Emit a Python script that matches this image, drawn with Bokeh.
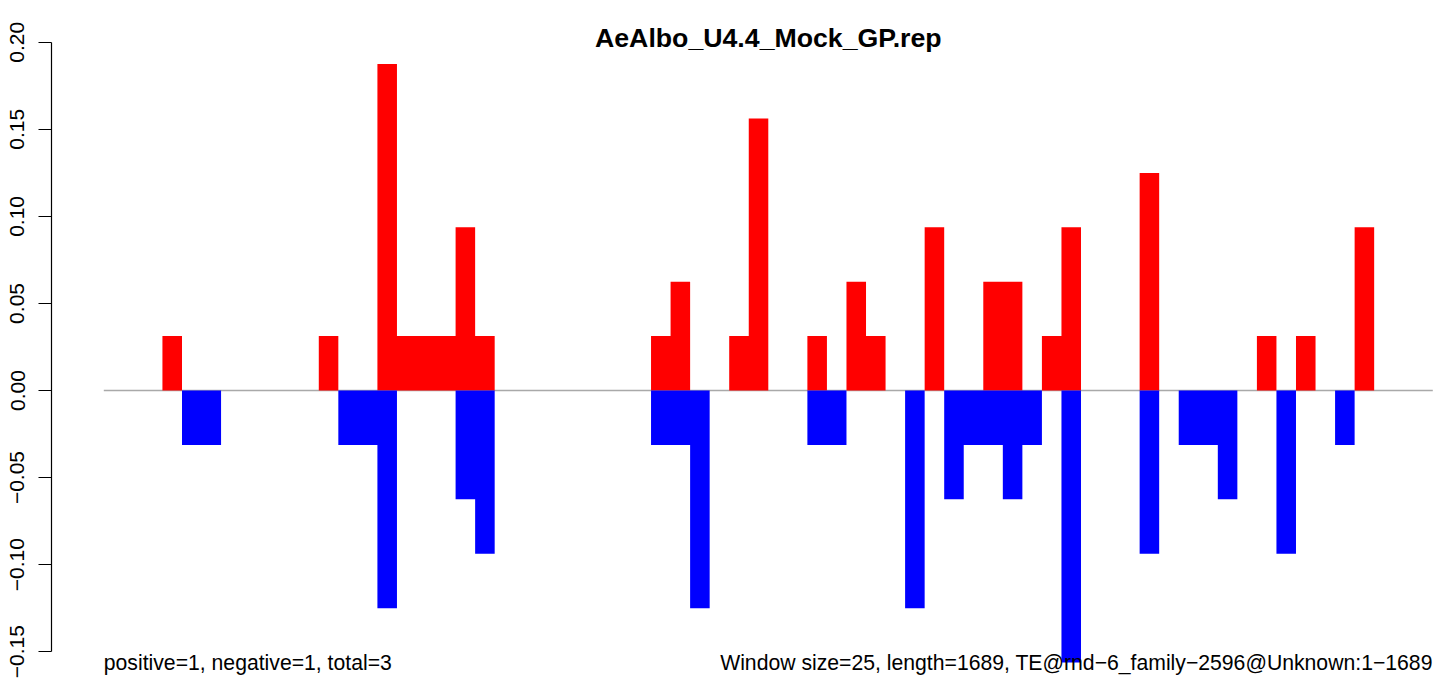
from bokeh.plotting import figure
from bokeh.models import (ColumnDataSource, Range1d, LinearAxis, FixedTicker,
                          CustomJSTickFormatter, Label)
from bokeh.embed import file_html
from bokeh.resources import INLINE

# ---- data (one value per 25-nt window, 68 windows) ----
window_index = list(range(68))
positive_vals = [0, 0, 0, 0.03125, 0, 0, 0, 0, 0, 0,
                 0, 0.03125, 0, 0, 0.1875, 0.03125, 0.03125, 0.03125, 0.09375, 0.03125,
                 0, 0, 0, 0, 0, 0, 0, 0, 0.03125, 0.0625,
                 0, 0, 0.03125, 0.15625, 0, 0, 0.03125, 0, 0.0625, 0.03125,
                 0, 0, 0.09375, 0, 0, 0.0625, 0.0625, 0, 0.03125, 0.09375,
                 0, 0, 0, 0.125, 0, 0, 0, 0, 0, 0.03125,
                 0, 0.03125, 0, 0, 0.09375, 0, 0, 0]
negative_vals = [0, 0, 0, 0, -0.03125, -0.03125, 0, 0, 0, 0,
                 0, 0, -0.03125, -0.03125, -0.125, 0, 0, 0, -0.0625, -0.09375,
                 0, 0, 0, 0, 0, 0, 0, 0, -0.03125, -0.03125,
                 -0.125, 0, 0, 0, 0, 0, -0.03125, -0.03125, 0, 0,
                 0, -0.125, 0, -0.0625, -0.03125, -0.03125, -0.0625, -0.03125, 0, -0.15625,
                 0, 0, 0, -0.09375, 0, -0.03125, -0.03125, -0.0625, 0, 0,
                 -0.09375, 0, 0, -0.03125, 0, 0, 0, 0]
y_ticks = [-0.15, -0.10, -0.05, 0.00, 0.05, 0.10, 0.15, 0.20]

title_text = "AeAlbo_U4.4_Mock_GP.rep"
left_note = "positive=1, negative=1, total=3"
right_note = "Window size=25, length=1689, TE@rnd\u22126_family\u22122596@Unknown:1\u22121689"

FONT = "Liberation Sans"

n = len(window_index)
# step areas: each window's value held from its left edge to the next edge
edges = window_index + [n]
src = ColumnDataSource(dict(
    x=edges,
    zero=[0] * (n + 1),
    pos=positive_vals + [0],
    neg=negative_vals + [0]))

W, H = 1439, 683
FRAME_LEFT = 51.0
px_per_bin = 1329.0 / n
x_start = -(103.3 - FRAME_LEFT) / px_per_bin
x_end = (W - 103.3) / px_per_bin
px_per_unit = 1741.0
zero_px = 390.0
y_end = zero_px / px_per_unit
y_start = -(H - zero_px) / px_per_unit

p = figure(width=W, height=H, output_backend="svg", toolbar_location=None,
           x_range=Range1d(x_start, x_end), y_range=Range1d(y_start, y_end),
           x_axis_location=None, y_axis_location=None,
           min_border_left=int(FRAME_LEFT), min_border_right=0,
           min_border_top=0, min_border_bottom=0)
p.outline_line_color = None
p.xgrid.visible = False
p.ygrid.visible = False
p.background_fill_color = "white"
p.border_fill_color = "white"

# zero baseline
p.segment(x0=[0], y0=[0], x1=[n], y1=[0], line_color="#A9A9A9", line_width=1.3)

p.varea_step(x="x", y1="zero", y2="pos", step_mode="after", source=src,
             fill_color="#FF0000")
p.varea_step(x="x", y1="zero", y2="neg", step_mode="after", source=src,
             fill_color="#0000FF")

yaxis = LinearAxis(bounds=(y_ticks[0], y_ticks[-1]))
yaxis.ticker = FixedTicker(ticks=y_ticks)
yaxis.formatter = CustomJSTickFormatter(code="return tick.toFixed(2).replace('-', '\\u2212');")
yaxis.major_label_orientation = "vertical"
yaxis.major_tick_out = 13
yaxis.major_tick_in = 0
yaxis.minor_tick_out = 0
yaxis.minor_tick_in = 0
yaxis.major_label_standoff = 14
yaxis.axis_line_color = "black"
yaxis.axis_line_width = 1.2
yaxis.major_tick_line_width = 1.2
yaxis.major_label_text_font = FONT
yaxis.major_label_text_font_size = "21px"
yaxis.major_label_text_color = "black"
p.add_layout(yaxis, "left")

p.add_layout(Label(x=n / 2, y=(zero_px - 37.7) / px_per_unit, text=title_text,
                   text_align="center", text_baseline="alphabetic",
                   text_font=FONT, text_font_size="26.7px", text_font_style="bold",
                   text_color="black"))
base_y = -(661.7 - zero_px) / px_per_unit
p.add_layout(Label(x=0, y=base_y, text=left_note, text_align="left",
                   text_baseline="alphabetic", text_font=FONT,
                   text_font_size="21.2px", text_color="black"))
p.add_layout(Label(x=n, y=base_y, text=right_note, text_align="right",
                   text_baseline="alphabetic", text_font=FONT,
                   text_font_size="21.2px", text_color="black"))

open("out.html", "w").write(file_html(p, INLINE))
